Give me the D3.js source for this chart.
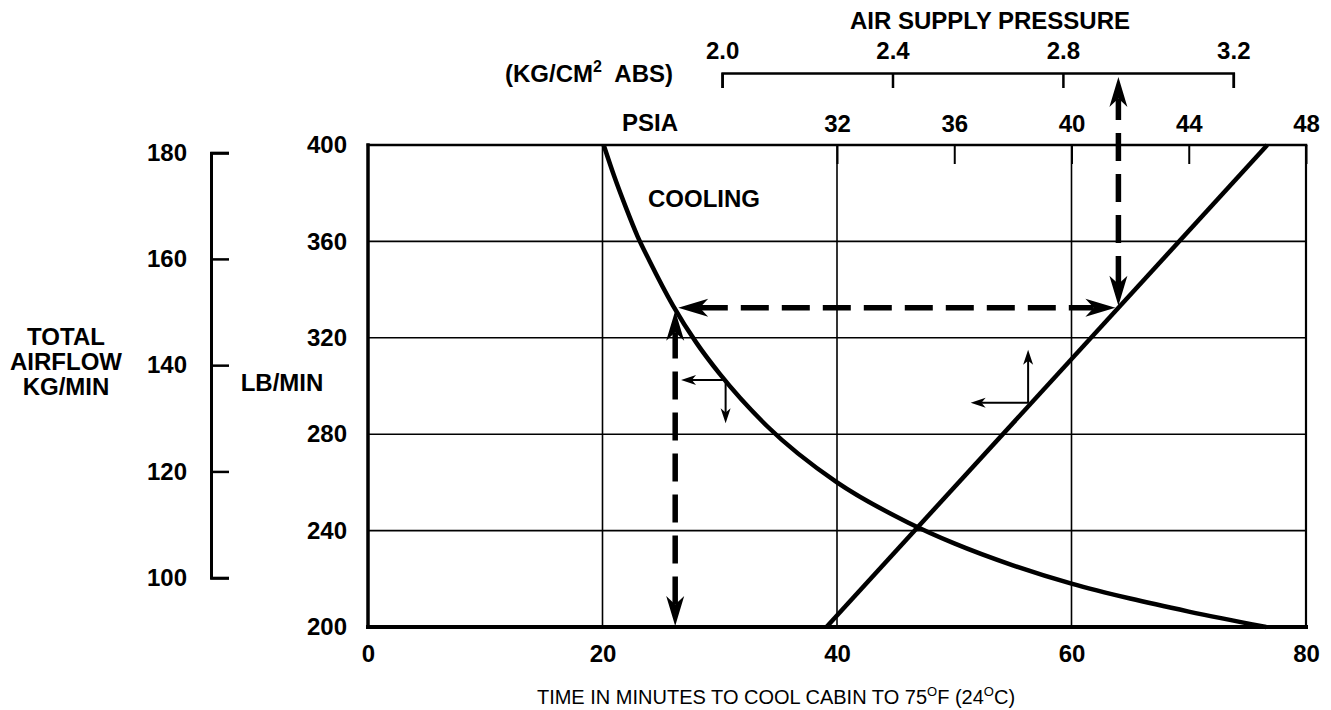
<!DOCTYPE html>
<html><head><meta charset="utf-8">
<script src="https://cdn.jsdelivr.net/npm/d3@7"></script>
<style>
html,body{margin:0;padding:0;background:#fff;}
svg text{font-family:"Liberation Sans",Arial,sans-serif;font-weight:bold;font-size:24px;fill:#000;}
</style></head><body>
<svg id="chart" width="1331" height="710"></svg>
<script>
// ---- data ----
const timeTicks = [0, 20, 40, 60, 80];          // minutes
const timeGrid = [20, 40, 60];
const lbTicks = [200, 240, 280, 320, 360, 400];   // LB/MIN
const lbGrid = [240, 280, 320, 360];
const kgTicks = [100, 120, 140, 160, 180];        // KG/MIN
const psiaTicks = [32, 36, 40, 44, 48];           // PSIA
const kgcmTicks = [2.0, 2.4, 2.8, 3.2];           // KG/CM2 ABS

// cooling curve: time (min) vs total airflow (lb/min)
const coolingTime    = [20.1, 21, 22, 23, 24, 26, 28, 30, 34, 40, 46, 50, 55, 60, 65, 70, 76.6];
const coolingAirflow = [400, 387, 374, 362, 352, 333.5, 318, 305, 283.5, 260, 243.5, 234.7, 225.6, 218, 211.8, 206.4, 200];

// supply line: air supply pressure (psia) vs total airflow (lb/min)
const supplyPsia    = [31.64, 46.68];
const supplyAirflow = [200, 400];

// worked example
const exampleTime = 26.2, exampleAirflow = 332.5, examplePsia = 41.6, exampleKgcm = 2.93;

// direction indicator arrows
const coolingMarker = {time: 30.5, airflow: 302.5, toTime: 26.7, toAirflow: 284.5};
const supplyMarker  = {time: 56.3, airflow: 293,   toTime: 51.4, toAirflow: 315};

// ---- layout ----
const svg = d3.select("#chart");
const plot = {left: 368, right: 1306, top: 145, bottom: 627};
const kgAxisX = 211, kgcmAxisY = 73;
const LB_PER_KG = 2.20462;

const x = d3.scaleLinear().domain([0, 80]).range([plot.left, plot.right]);
const y = d3.scaleLinear().domain([200, 400]).range([plot.bottom, plot.top]);
const xPsia = d3.scaleLinear().domain([16, 48]).range([x(0), x(80)]);
const xKgcm = d3.scaleLinear().domain([2.0, 3.2]).range([x(30.2), x(73.8)]);
const yKg = d3.scaleLinear().domain([100, 180]).range([y(100 * LB_PER_KG), y(180 * LB_PER_KG)]);

// grid
const grid = svg.append("g").attr("stroke", "#000").attr("stroke-width", 1.6);
grid.selectAll(".v").data(timeGrid).join("line")
  .attr("x1", d => x(d)).attr("x2", d => x(d)).attr("y1", y(200)).attr("y2", y(400));
grid.selectAll(".h").data(lbGrid).join("line")
  .attr("x1", x(0)).attr("x2", x(80)).attr("y1", d => y(d)).attr("y2", d => y(d));

// frame
const frame = svg.append("g").attr("stroke", "#000").attr("stroke-linecap", "square");
frame.append("line").attr("x1", x(0)).attr("x2", x(80)).attr("y1", y(400)).attr("y2", y(400)).attr("stroke-width", 2.5);
frame.append("line").attr("x1", x(80)).attr("x2", x(80)).attr("y1", y(400)).attr("y2", y(200)).attr("stroke-width", 2.2);
frame.append("line").attr("x1", x(0)).attr("x2", x(0)).attr("y1", y(400)).attr("y2", y(200)).attr("stroke-width", 3.5);
frame.append("line").attr("x1", x(0)).attr("x2", x(80)).attr("y1", y(200)).attr("y2", y(200)).attr("stroke-width", 4);

// axes
function clean(g) { g.attr("font-family", null).attr("font-size", null); }
const gx = svg.append("g").attr("transform", `translate(0,${plot.bottom})`)
  .call(d3.axisBottom(x).tickValues(timeTicks).tickSize(0).tickPadding(18).tickFormat(d3.format("d")));
gx.select(".domain").remove(); clean(gx);

const gy = svg.append("g").attr("transform", `translate(${plot.left},0)`)
  .call(d3.axisLeft(y).tickValues(lbTicks).tickSize(0).tickPadding(21).tickFormat(d3.format("d")));
gy.select(".domain").remove(); clean(gy);

const gp = svg.append("g").attr("transform", `translate(0,${plot.top})`)
  .call(d3.axisTop(xPsia).tickValues(psiaTicks).tickSize(-19).tickPadding(13).tickFormat(d3.format("d")));
gp.select(".domain").remove(); gp.selectAll("line").attr("stroke-width", 2); clean(gp);

const gk = svg.append("g").attr("transform", `translate(0,${kgcmAxisY})`)
  .call(d3.axisTop(xKgcm).tickValues(kgcmTicks).tickSizeInner(-15).tickSizeOuter(-15).tickPadding(14).tickFormat(d3.format(".1f")));
gk.select(".domain").attr("stroke-width", 2.5); gk.selectAll("line").attr("stroke-width", 2.5); clean(gk);

const gkg = svg.append("g").attr("transform", `translate(${kgAxisX},0)`)
  .call(d3.axisLeft(yKg).tickValues(kgTicks).tickSizeInner(-18).tickSizeOuter(-18).tickPadding(24).tickFormat(d3.format("d")));
gkg.select(".domain").attr("stroke-width", 3); gkg.selectAll("line").attr("stroke-width", 2.5); clean(gkg);

// curves
const coolingData = coolingTime.map((t, i) => [t, coolingAirflow[i]]);
svg.append("path").datum(coolingData)
  .attr("d", d3.line().x(d => x(d[0])).y(d => y(d[1])).curve(d3.curveMonotoneX))
  .attr("fill", "none").attr("stroke", "#000").attr("stroke-width", 4.5);

const supplyData = supplyPsia.map((p, i) => [p, supplyAirflow[i]]);
svg.append("path").datum(supplyData)
  .attr("d", d3.line().x(d => xPsia(d[0])).y(d => y(d[1])))
  .attr("fill", "none").attr("stroke", "#000").attr("stroke-width", 4.5);

// arrows
function arrowHead(g, tx, ty, ang, L, W) {
  g.append("path")
    .attr("d", `M0,0 L${-L},${W / 2} L${-L * 0.72},0 L${-L},${-W / 2} Z`)
    .attr("transform", `translate(${tx},${ty}) rotate(${ang})`)
    .attr("fill", "#000");
}
const dash = svg.append("g");
function dashedArrow(x1, y1, x2, y2, bothEnds) {
  const L = 30, W = 18, back = L * 0.72;
  const ang = Math.atan2(y2 - y1, x2 - x1);
  const ux = Math.cos(ang), uy = Math.sin(ang);
  dash.append("line")
    .attr("x1", x1 + ux * back).attr("y1", y1 + uy * back)
    .attr("x2", x2 - ux * back).attr("y2", y2 - uy * back)
    .attr("stroke", "#000").attr("stroke-width", 5.5).attr("stroke-dasharray", "28,13");
  arrowHead(dash, x2, y2, ang * 180 / Math.PI, L, W);
  if (bothEnds) arrowHead(dash, x1, y1, ang * 180 / Math.PI + 180, L, W);
}
const p1x = x(exampleTime), p1y = y(exampleAirflow);
const p2x = xPsia(examplePsia), p2y = y(exampleAirflow);
dashedArrow(p1x, y(200) - 1, p1x, p1y + 3, true);
dashedArrow(p1x + 3, p1y, p2x - 3, p2y, true);
dashedArrow(p2x, p2y - 2, p2x, kgcmAxisY + 4, true);

const small = svg.append("g");
function smallArrow(x1, y1, x2, y2) {
  const ang = Math.atan2(y2 - y1, x2 - x1);
  const L = 15, W = 10;
  small.append("line").attr("x1", x1).attr("y1", y1)
    .attr("x2", x2 - Math.cos(ang) * L * 0.7).attr("y2", y2 - Math.sin(ang) * L * 0.7)
    .attr("stroke", "#000").attr("stroke-width", 2);
  arrowHead(small, x2, y2, ang * 180 / Math.PI, L, W);
}
smallArrow(x(coolingMarker.time), y(coolingMarker.airflow), x(coolingMarker.toTime), y(coolingMarker.airflow));
smallArrow(x(coolingMarker.time), y(coolingMarker.airflow), x(coolingMarker.time), y(coolingMarker.toAirflow));
smallArrow(x(supplyMarker.time), y(supplyMarker.airflow), x(supplyMarker.toTime), y(supplyMarker.airflow));
smallArrow(x(supplyMarker.time), y(supplyMarker.airflow), x(supplyMarker.time), y(supplyMarker.toAirflow));

// texts
svg.append("text").attr("x", 704).attr("y", 207).attr("text-anchor", "middle").text("COOLING");
svg.append("text").attr("x", 990).attr("y", 29).attr("text-anchor", "middle").text("AIR SUPPLY PRESSURE");
const kgt = svg.append("text").attr("x", 673).attr("y", 82).attr("text-anchor", "end");
kgt.append("tspan").text("(KG/CM");
kgt.append("tspan").attr("dy", -10).style("font-size", "16px").text("2");
kgt.append("tspan").attr("dy", 10).text("\u00A0 ABS)");
svg.append("text").attr("x", 650).attr("y", 131).attr("text-anchor", "middle").text("PSIA");
svg.append("text").attr("x", 282).attr("y", 391).attr("text-anchor", "middle").text("LB/MIN");
const tl = svg.append("text").attr("text-anchor", "middle");
[["TOTAL", 345], ["AIRFLOW", 370], ["KG/MIN", 395]].forEach(([s, yy]) =>
  tl.append("tspan").attr("x", 66).attr("y", yy).text(s));
const tt = svg.append("text").attr("x", 776).attr("y", 704).attr("text-anchor", "middle")
  .style("font-size", "20px").style("font-weight", "normal");
tt.append("tspan").text("TIME IN MINUTES TO COOL CABIN TO 75");
tt.append("tspan").attr("dy", -8).style("font-size", "13px").text("O");
tt.append("tspan").attr("dy", 8).text("F (24");
tt.append("tspan").attr("dy", -8).style("font-size", "13px").text("O");
tt.append("tspan").attr("dy", 8).text("C)");
</script>
</body></html>
